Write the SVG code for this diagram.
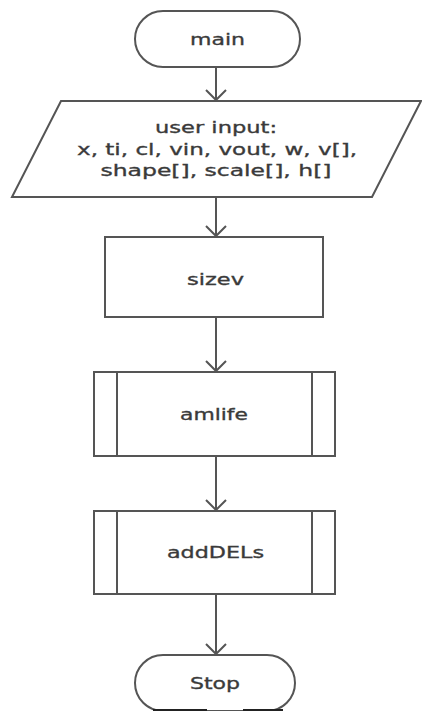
<svg xmlns="http://www.w3.org/2000/svg" width="422" height="711" viewBox="0 0 422 711">
<defs>
<marker id="arr" markerWidth="22" markerHeight="22" refX="11" refY="11" orient="auto" markerUnits="userSpaceOnUse">
<path d="M1,1 L11,11 L1,21" fill="none" stroke="#555" stroke-width="2"/>
</marker>
<style>
.s{fill:#fff;stroke:#555;stroke-width:2}
.t{font-family:"DejaVu Sans",Verdana,sans-serif;font-size:16.5px;fill:#3a3a3a;stroke:#3a3a3a;stroke-width:0.35;text-anchor:middle}
.c{stroke:#555;stroke-width:2;fill:none;marker-end:url(#arr)}
</style>
</defs>
<rect width="422" height="711" fill="#fff"/>
<g id="connectors">
<line class="c" x1="216" y1="67" x2="216" y2="100"/>
<line class="c" x1="216" y1="197" x2="216" y2="236"/>
<line class="c" x1="216" y1="317" x2="216" y2="371"/>
<line class="c" x1="216" y1="456" x2="216" y2="510"/>
<line class="c" x1="216" y1="594" x2="216" y2="654"/>
</g>
<g id="main">
<rect class="s" x="135" y="11" width="165" height="56" rx="28"/>
<text class="t" x="217.5" y="45" textLength="55" lengthAdjust="spacingAndGlyphs">main</text>
</g>
<g id="input">
<polygon class="s" points="61,101 421,101 372,197 12,197"/>
<text class="t" x="216" y="133" textLength="122" lengthAdjust="spacingAndGlyphs">user input:</text>
<text class="t" x="217" y="155" textLength="280" lengthAdjust="spacingAndGlyphs">x, ti, cl, vin, vout, w, v[],</text>
<text class="t" x="216" y="176" textLength="231" lengthAdjust="spacingAndGlyphs">shape[], scale[], h[]</text>
</g>
<g id="sizev">
<rect class="s" x="105" y="237" width="218" height="80"/>
<text class="t" x="215.5" y="285" textLength="57" lengthAdjust="spacingAndGlyphs">sizev</text>
</g>
<g id="amlife">
<rect class="s" x="94" y="372" width="241" height="84"/>
<line class="s" x1="117" y1="372" x2="117" y2="456"/>
<line class="s" x1="312" y1="372" x2="312" y2="456"/>
<text class="t" x="214" y="420" textLength="68" lengthAdjust="spacingAndGlyphs">amlife</text>
</g>
<g id="addDELs">
<rect class="s" x="94" y="511" width="241" height="83"/>
<line class="s" x1="117" y1="511" x2="117" y2="594"/>
<line class="s" x1="312" y1="511" x2="312" y2="594"/>
<text class="t" x="215.5" y="558" textLength="97" lengthAdjust="spacingAndGlyphs">addDELs</text>
</g>
<g id="stop">
<rect class="s" x="135" y="655" width="160" height="56" rx="28"/>
<text class="t" x="215" y="689" textLength="50" lengthAdjust="spacingAndGlyphs">Stop</text>
</g>
<rect x="153" y="709" width="54" height="2" fill="#222"/>
<rect x="243" y="709" width="40" height="2" fill="#222"/>
</svg>
